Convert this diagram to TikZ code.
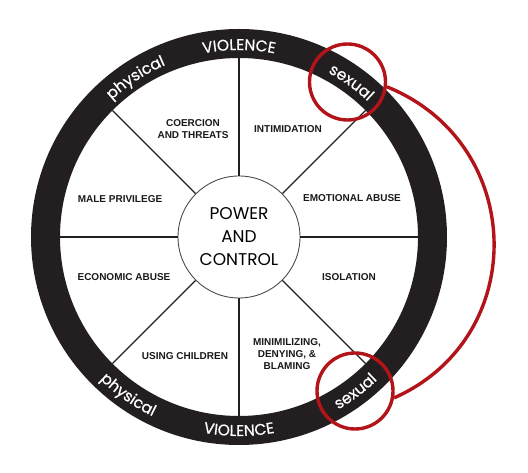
\documentclass[tikz,border=0pt]{standalone}
\usepackage{fontspec}
\setmainfont{Liberation Sans}
\newfontfamily\ringfont{Poppins}[FakeBold=0.6]
\newfontfamily\hubfont{Poppins}
\usetikzlibrary{decorations.text, calc}
\definecolor{ringblack}{RGB}{35,31,32}
\definecolor{markred}{RGB}{178,20,26}

\begin{document}
\begin{tikzpicture}[
    x=1pt, y=1pt,
    spoke/.style={line width=1.1pt, draw=ringblack},
    hub/.style={circle, draw=black!70, line width=0.9pt, minimum size=122pt, inner sep=0pt, align=center, font=\hubfont\fontsize{17}{23}\selectfont},
    tactic/.style={align=center, font=\bfseries\fontsize{10}{12}\selectfont, text=black!90},
    markring/.style={circle, draw=markred, line width=3.4pt, minimum size=76pt, inner sep=0pt},
    link/.style={draw=markred, line width=3.4pt},
    ringtext/.style={decorate, decoration={text along path, text align=center,
        text={|\ringfont\fontsize{15.5}{15.5}\selectfont\color{white}|#1}}}
]
   \useasboundingbox (0,0) rectangle (528,473);
   \coordinate (c) at (239,236);

   % outer ring
   \fill[ringblack, even odd rule] (c) circle[radius=208pt] (c) circle[radius=179pt];

   % words on the ring, top reads clockwise, bottom counter clockwise
   \path[ringtext=physical] (c) ++(148:187pt) arc[start angle=148, end angle=98, radius=187pt];
   \path[ringtext=VIOLENCE] (c) ++(115:187pt) arc[start angle=115, end angle=65, radius=187pt];
   \path[ringtext=sexual] (c) ++(79:187pt) arc[start angle=79, end angle=29, radius=187pt];
   \path[ringtext=physical] (c) ++(210:199pt) arc[start angle=210, end angle=260, radius=199pt];
   \path[ringtext=VIOLENCE] (c) ++(245:199pt) arc[start angle=245, end angle=295, radius=199pt];
   \path[ringtext=sexual] (c) ++(282:199pt) arc[start angle=282, end angle=332, radius=199pt];

   % hub and spokes
   \node[hub] (hub) at (c) {POWER\\AND\\CONTROL};
   \foreach \a in {0,45,...,315} {
      \coordinate (rim\a) at ($(c)+(\a:179pt)$);
      \draw[spoke] (hub.\a) -- (rim\a);
   }

   % the eight tactics
   \node[tactic] (coercion) at (193,344) {COERCION\\AND THREATS};
   \node[tactic] (intim) at (288,344) {INTIMIDATION};
   \node[tactic] (male) at (120,274) {MALE PRIVILEGE};
   \node[tactic] (emotional) at (352,275) {EMOTIONAL ABUSE};
   \node[tactic] (economic) at (124,196) {ECONOMIC ABUSE};
   \node[tactic] (isolation) at (349,196) {ISOLATION};
   \node[tactic] (children) at (185,117) {USING CHILDREN};
   \node[tactic] (minim) at (287,119) {MINIMILIZING,\\DENYING, \&\\BLAMING};

   % red marks round the two sexual labels
   \node[markring] (topmark) at (347.5,391) {};
   \node[markring] (botmark) at (355,82) {};
   \draw[link] (topmark.-7) .. controls +(-22:150pt) and +(24:150pt) .. (botmark.-10);
\end{tikzpicture}
\end{document}
